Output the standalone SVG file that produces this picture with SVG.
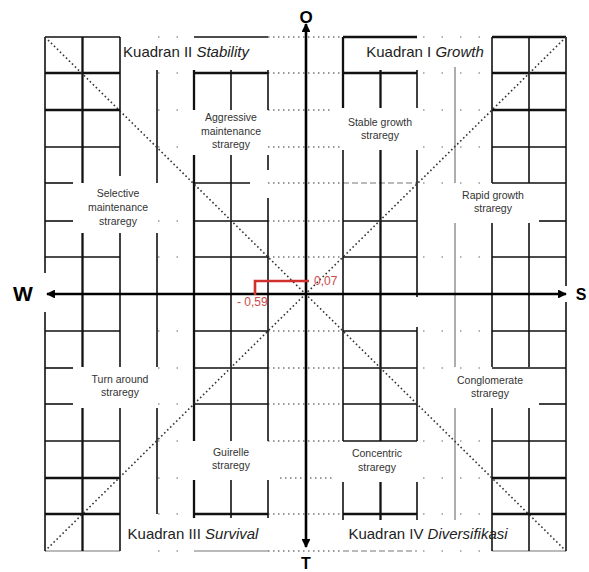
<svg xmlns="http://www.w3.org/2000/svg" width="589" height="572" viewBox="0 0 589 572">
<style>
.bg{fill:#fff}
.g line,.g path{stroke:#111;stroke-width:1.6;fill:none}
.g .t{stroke-width:2.3}
.g .f{stroke:#777;stroke-width:1.2}
.dt line{stroke:#777;stroke-width:1.3;stroke-dasharray:1.5 3.5}
.sp line{stroke:#999;stroke-width:1.3;stroke-dasharray:1.5 17}
.diag{stroke:#333;stroke-width:1.6;stroke-dasharray:1.6 2.6;fill:none}
.axis{stroke:#000;stroke-width:2.6;fill:none}
.lbl{font-family:"Liberation Sans",Arial,sans-serif;font-size:10.5px;fill:#333;text-anchor:middle}
.kq{font-family:"Liberation Sans",Arial,sans-serif;font-size:15px;fill:#222;text-anchor:middle}
.ax{font-family:"Liberation Sans",Arial,sans-serif;font-weight:bold;fill:#000;text-anchor:middle}
.red{stroke:#d0312d;stroke-width:2.6;fill:none}
.rt{font-family:"Liberation Sans",Arial,sans-serif;font-size:12px;fill:#cc4a4a}
</style>
<defs>
<marker id="ah" viewBox="0 0 10 10" refX="9" refY="5" markerWidth="4" markerHeight="3.4" orient="auto" markerUnits="strokeWidth">
<path d="M0,0 L10,5 L0,10 z" fill="#000"/>
</marker>
</defs>
<rect class="bg" width="589" height="572"/>

<g id="dotted-grid">
<g class="dt">
<line x1="268" y1="37" x2="343" y2="37"/><line x1="268" y1="73" x2="343" y2="73"/>
<line x1="268" y1="110" x2="332" y2="110"/><line x1="268" y1="147" x2="343" y2="147"/>
<line x1="268" y1="183" x2="343" y2="183"/><line x1="268" y1="221" x2="343" y2="221"/>
<line x1="268" y1="257" x2="343" y2="257"/><line x1="268" y1="331" x2="343" y2="331"/>
<line x1="268" y1="368" x2="343" y2="368"/><line x1="268" y1="404" x2="343" y2="404"/>
<line x1="268" y1="441" x2="343" y2="441"/><line x1="280" y1="478" x2="332" y2="478"/>
<line x1="268" y1="514" x2="343" y2="514"/><line x1="268" y1="551" x2="343" y2="551"/>
</g>
<g class="sp">
<line x1="158" y1="37" x2="194" y2="37"/><line x1="158" y1="73" x2="194" y2="73"/>
<line x1="158" y1="110" x2="194" y2="110"/><line x1="158" y1="147" x2="194" y2="147"/>
<line x1="158" y1="221" x2="194" y2="221"/><line x1="158" y1="257" x2="194" y2="257"/>
<line x1="158" y1="331" x2="194" y2="331"/><line x1="158" y1="368" x2="194" y2="368"/>
<line x1="158" y1="404" x2="194" y2="404"/><line x1="158" y1="441" x2="194" y2="441"/>
<line x1="158" y1="478" x2="194" y2="478"/><line x1="158" y1="514" x2="194" y2="514"/>
<line x1="158" y1="551" x2="194" y2="551"/>
<line x1="423" y1="37" x2="492" y2="37"/><line x1="423" y1="73" x2="492" y2="73"/>
<line x1="423" y1="110" x2="492" y2="110"/><line x1="423" y1="147" x2="492" y2="147"/>
<line x1="423" y1="183" x2="492" y2="183"/><line x1="423" y1="257" x2="492" y2="257"/>
<line x1="423" y1="331" x2="492" y2="331"/><line x1="423" y1="368" x2="492" y2="368"/>
<line x1="423" y1="441" x2="492" y2="441"/><line x1="423" y1="478" x2="492" y2="478"/>
<line x1="423" y1="514" x2="492" y2="514"/><line x1="423" y1="551" x2="492" y2="551"/>
</g>
</g>

<g id="grid" class="g">
<line x1="45" y1="37" x2="120" y2="37"/><line x1="194" y1="37" x2="268" y2="37"/>
<line class="t" x1="45" y1="73" x2="120" y2="73"/><line class="t" x1="194" y1="73" x2="268" y2="73"/>
<line class="t" x1="45" y1="110" x2="120" y2="110"/>
<line x1="45" y1="147" x2="120" y2="147"/>
<line x1="45" y1="183" x2="73" y2="183"/><line x1="194" y1="183" x2="250" y2="183"/>
<line x1="45" y1="221" x2="73" y2="221"/><line x1="194" y1="221" x2="268" y2="221"/>
<line x1="45" y1="257" x2="120" y2="257"/><line x1="194" y1="257" x2="268" y2="257"/>
<line x1="45" y1="331" x2="120" y2="331"/><line x1="194" y1="331" x2="268" y2="331"/>
<line x1="45" y1="368" x2="73" y2="368"/><line x1="194" y1="368" x2="268" y2="368"/>
<line x1="45" y1="404" x2="73" y2="404"/><line x1="194" y1="404" x2="268" y2="404"/>
<line x1="45" y1="441" x2="120" y2="441"/>
<line class="t" x1="45" y1="478" x2="120" y2="478"/>
<line class="t" x1="45" y1="514" x2="120" y2="514"/><line class="t" x1="194" y1="514" x2="268" y2="514"/>
<line class="f" x1="45" y1="551" x2="120" y2="551"/><line class="f" x1="194" y1="551" x2="268" y2="551"/>
<line class="t" x1="343" y1="37" x2="417" y2="37"/><line class="t" x1="492" y1="37" x2="566" y2="37"/>
<line class="t" x1="343" y1="73" x2="417" y2="73"/><line class="t" x1="492" y1="73" x2="566" y2="73"/>
<line class="t" x1="492" y1="110" x2="566" y2="110"/>
<line x1="492" y1="147" x2="566" y2="147"/>
<line class="f" x1="343" y1="183" x2="417" y2="183" stroke-dasharray="6 3"/><line x1="492" y1="183" x2="566" y2="183"/>
<line x1="343" y1="221" x2="417" y2="221"/><line x1="539" y1="221" x2="566" y2="221"/>
<line x1="343" y1="257" x2="417" y2="257"/><line x1="492" y1="257" x2="566" y2="257"/>
<line x1="343" y1="331" x2="417" y2="331"/><line x1="492" y1="331" x2="566" y2="331"/>
<line x1="343" y1="368" x2="417" y2="368"/><line x1="492" y1="368" x2="566" y2="368"/>
<line x1="343" y1="404" x2="417" y2="404"/><line x1="539" y1="404" x2="566" y2="404"/>
<line x1="343" y1="441" x2="417" y2="441"/><line x1="492" y1="441" x2="566" y2="441"/>
<line class="t" x1="492" y1="478" x2="566" y2="478"/>
<line class="t" x1="343" y1="514" x2="417" y2="514"/><line class="t" x1="492" y1="514" x2="566" y2="514"/>
<line class="f" x1="343" y1="551" x2="417" y2="551" stroke-dasharray="6 3"/><line class="f" x1="492" y1="551" x2="566" y2="551"/>
<line x1="45" y1="37" x2="45" y2="273"/><line x1="45" y1="312" x2="45" y2="551"/>
<line class="t" x1="82.5" y1="37" x2="82.5" y2="183"/><line class="t" x1="82.5" y1="233" x2="82.5" y2="367"/><line class="t" x1="82.5" y1="408" x2="82.5" y2="551"/>
<line x1="120" y1="37" x2="120" y2="176"/><line x1="120" y1="233" x2="120" y2="367"/><line x1="120" y1="408" x2="120" y2="551"/>
<line x1="157" y1="70" x2="157" y2="183"/><line x1="157" y1="233" x2="157" y2="367"/><line x1="157" y1="408" x2="157" y2="514"/>
<line class="t" x1="194" y1="70" x2="194" y2="110"/><line class="t" x1="194" y1="155" x2="194" y2="441"/><line class="t" x1="194" y1="480" x2="194" y2="518"/>
<line x1="231" y1="70" x2="231" y2="110"/><line x1="231" y1="155" x2="231" y2="441"/><line x1="231" y1="480" x2="231" y2="518"/>
<line x1="268" y1="70" x2="268" y2="110"/><line x1="268" y1="155" x2="268" y2="170"/><line x1="268" y1="198" x2="268" y2="441"/><line x1="268" y1="480" x2="268" y2="518"/>
<line class="t" x1="343" y1="37" x2="343" y2="108"/><line x1="343" y1="150" x2="343" y2="441"/><line x1="343" y1="482" x2="343" y2="520"/>
<line class="t" x1="380.5" y1="70" x2="380.5" y2="108"/><line class="t" x1="380.5" y1="150" x2="380.5" y2="441"/><line class="t" x1="380.5" y1="482" x2="380.5" y2="520"/>
<line x1="417" y1="70" x2="417" y2="108"/><line x1="417" y1="150" x2="417" y2="297"/><line x1="417" y1="327" x2="417" y2="441"/><line x1="417" y1="482" x2="417" y2="520"/>
<line class="f" x1="455" y1="67" x2="455" y2="183"/><line class="f" x1="455" y1="223" x2="455" y2="367"/><line class="f" x1="455" y1="408" x2="455" y2="520"/>
<line x1="492" y1="37" x2="492" y2="183"/><line x1="492" y1="223" x2="492" y2="367"/><line x1="492" y1="408" x2="492" y2="551"/>
<line x1="529" y1="37" x2="529" y2="183"/><line x1="529" y1="223" x2="529" y2="367"/><line x1="529" y1="408" x2="529" y2="551"/>
<line x1="566" y1="37" x2="566" y2="286"/><line x1="566" y1="302" x2="566" y2="551"/>
</g>

<g id="connectors">
<line class="diag" x1="45" y1="37" x2="566" y2="551"/>
<line class="diag" x1="566" y1="37" x2="45" y2="551"/>
<line id="axis-o" class="axis" x1="306" y1="294" x2="306" y2="24" marker-end="url(#ah)"/>
<line id="axis-t" class="axis" x1="306" y1="294" x2="306" y2="547" marker-end="url(#ah)"/>
<line id="axis-w" class="axis" x1="306" y1="294" x2="47" y2="294" marker-end="url(#ah)"/>
<line id="axis-s" class="axis" x1="306" y1="294" x2="566" y2="294" marker-end="url(#ah)"/>
<polyline id="point" class="red" points="255,295 255,281 309,281"/>
</g>

<g id="label-o"><text class="ax" x="306" y="23" font-size="17">O</text></g>
<g id="label-t"><text class="ax" x="306" y="569" font-size="16">T</text></g>
<g id="label-w"><text class="ax" x="23" y="301" font-size="21">W</text></g>
<g id="label-s"><text class="ax" x="581" y="300" font-size="16">S</text></g>

<g id="val-x"><text class="rt" x="237" y="306">- 0,59</text></g>
<g id="val-y"><text class="rt" x="314" y="285">0,07</text></g>

<g id="kuadran-2"><text class="kq" x="186" y="57">Kuadran II <tspan font-style="italic">Stability</tspan></text></g>
<g id="kuadran-1"><text class="kq" x="425" y="57">Kuadran I <tspan font-style="italic">Growth</tspan></text></g>
<g id="kuadran-3"><text class="kq" x="193" y="539">Kuadran III <tspan font-style="italic">Survival</tspan></text></g>
<g id="kuadran-4"><text class="kq" x="428" y="539">Kuadran IV <tspan font-style="italic">Diversifikasi</tspan></text></g>

<g id="aggressive"><text class="lbl" x="231" y="121">Aggressive</text><text class="lbl" x="231" y="135">maintenance</text><text class="lbl" x="231" y="148">straregy</text></g>
<g id="selective"><text class="lbl" x="118" y="197">Selective</text><text class="lbl" x="118" y="211">maintenance</text><text class="lbl" x="118" y="225">straregy</text></g>
<g id="stable"><text class="lbl" x="380" y="126">Stable growth</text><text class="lbl" x="380" y="139">straregy</text></g>
<g id="rapid"><text class="lbl" x="493" y="199">Rapid growth</text><text class="lbl" x="493" y="212">straregy</text></g>
<g id="turn"><text class="lbl" x="120" y="383">Turn around</text><text class="lbl" x="120" y="396">straregy</text></g>
<g id="conglomerate"><text class="lbl" x="490" y="384">Conglomerate</text><text class="lbl" x="490" y="397">straregy</text></g>
<g id="guirelle"><text class="lbl" x="231" y="456">Guirelle</text><text class="lbl" x="231" y="469">straregy</text></g>
<g id="concentric"><text class="lbl" x="377" y="457">Concentric</text><text class="lbl" x="377" y="471">straregy</text></g>
</svg>
